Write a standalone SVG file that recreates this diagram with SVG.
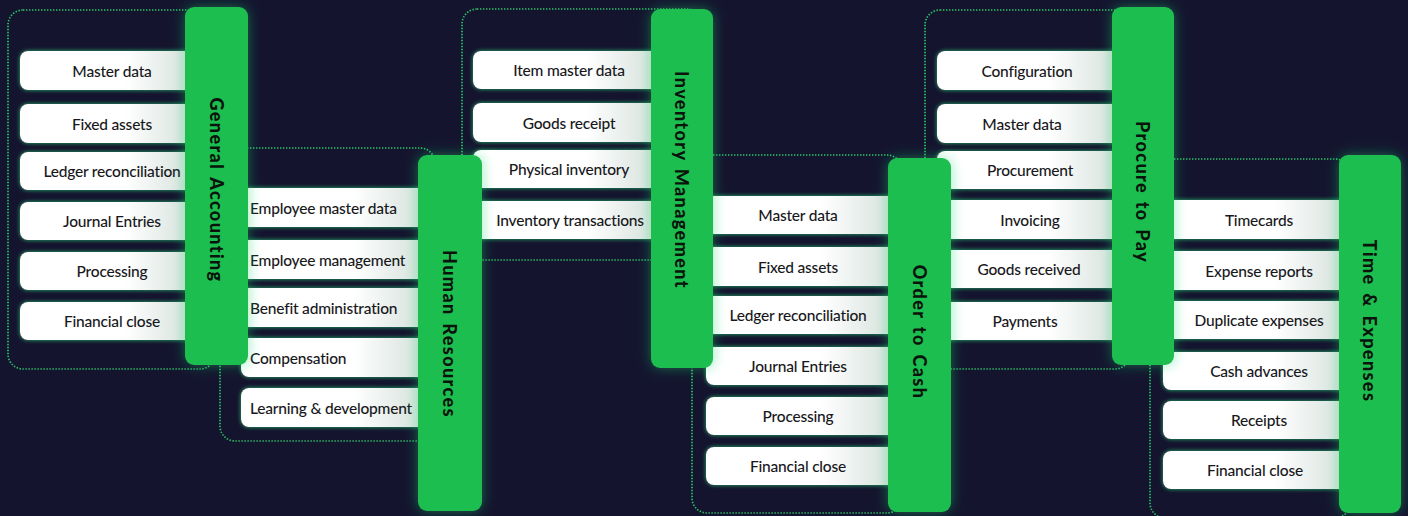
<svg xmlns="http://www.w3.org/2000/svg" width="1408" height="516" viewBox="0 0 1408 516">
  <defs>
    <linearGradient id="itemFill" x1="0" y1="0" x2="1" y2="0">
      <stop offset="0" stop-color="#ffffff"/>
      <stop offset="0.6" stop-color="#ffffff"/>
      <stop offset="1" stop-color="#d3dfd9"/>
    </linearGradient>
    <filter id="itemGlow" x="-10%" y="-40%" width="120%" height="180%">
      <feGaussianBlur in="SourceAlpha" stdDeviation="2"/>
      <feComponentTransfer><feFuncA type="linear" slope="0.8"/></feComponentTransfer>
      <feComposite in2="SourceAlpha" operator="out" result="halo"/>
      <feFlood flood-color="#2fe07c"/>
      <feComposite in2="halo" operator="in" result="glow"/>
      <feMerge><feMergeNode in="glow"/><feMergeNode in="SourceGraphic"/></feMerge>
    </filter>
    <filter id="barGlow" x="-60%" y="-20%" width="220%" height="140%">
      <feGaussianBlur in="SourceAlpha" stdDeviation="7"/>
      <feComponentTransfer><feFuncA type="linear" slope="0.45"/></feComponentTransfer>
      <feComposite in2="SourceAlpha" operator="out" result="halo"/>
      <feFlood flood-color="#1fd36a"/>
      <feComposite in2="halo" operator="in" result="glow"/>
      <feMerge><feMergeNode in="glow"/><feMergeNode in="SourceGraphic"/></feMerge>
    </filter>
    <style>
      .frame { fill: none; stroke: #2ac466; stroke-width: 1.7; stroke-dasharray: 1.4 1.6; }
      .item rect { fill: url(#itemFill); filter: url(#itemGlow); }
      .item text { font-family: Lato, "Liberation Sans", sans-serif; font-size: 15.5px; font-weight: 500; fill: #18181c; text-anchor: middle; dominant-baseline: central; letter-spacing: -0.2px; }
      .item.left text { text-anchor: start; }
      .bar rect { fill: #1dbf50; filter: url(#barGlow); }
      .bar text { font-family: Lato, "Liberation Sans", sans-serif; font-size: 18px; font-weight: 900; letter-spacing: 1.4px; word-spacing: 2px; fill: #0a140d; text-anchor: middle; dominant-baseline: central; }
    </style>
  </defs>

  <rect x="0" y="0" width="1408" height="516" fill="#14142e"/>

  <!-- dotted frames behind each process column -->
  <g id="connectors">
    <rect class="frame" x="8" y="10" width="207" height="359" rx="15"/>
    <rect class="frame" x="220" y="148" width="215" height="293" rx="15"/>
    <rect class="frame" x="462" y="9" width="240" height="251" rx="15"/>
    <rect class="frame" x="692" y="155" width="210" height="358" rx="15"/>
    <rect class="frame" x="925" y="10" width="205" height="359" rx="15"/>
    <rect class="frame" x="1150" y="159" width="200" height="359" rx="15"/>
  </g>

  <!-- columns drawn right to left so each bar sits over the next column's items -->
  <g id="time-expenses">
    <g class="item"><rect x="1163" y="200" width="186" height="39" rx="8"/><text x="1259" y="219.5">Timecards</text></g>
    <g class="item"><rect x="1163" y="251" width="186" height="39" rx="8"/><text x="1259" y="270.5">Expense reports</text></g>
    <g class="item"><rect x="1163" y="301" width="186" height="38" rx="8"/><text x="1259" y="320">Duplicate expenses</text></g>
    <g class="item"><rect x="1163" y="352" width="186" height="38" rx="8"/><text x="1259" y="371">Cash advances</text></g>
    <g class="item"><rect x="1163" y="401" width="186" height="38" rx="8"/><text x="1259" y="420">Receipts</text></g>
    <g class="item"><rect x="1163" y="451" width="186" height="38" rx="8"/><text x="1255" y="470">Financial close</text></g>
    <g class="bar"><rect x="1339" y="155" width="62" height="358" rx="9"/><text transform="translate(1370 321) rotate(90)">Time &amp; Expenses</text></g>
  </g>

  <g id="procure-to-pay">
    <g class="item"><rect x="937" y="51" width="185" height="39" rx="8"/><text x="1027" y="70.5">Configuration</text></g>
    <g class="item"><rect x="937" y="104" width="185" height="39" rx="8"/><text x="1022" y="123.5">Master data</text></g>
    <g class="item"><rect x="937" y="151" width="185" height="38" rx="8"/><text x="1030" y="170">Procurement</text></g>
    <g class="item"><rect x="937" y="200" width="185" height="39" rx="8"/><text x="1030" y="219.5">Invoicing</text></g>
    <g class="item"><rect x="937" y="250" width="185" height="38" rx="8"/><text x="1029" y="269">Goods received</text></g>
    <g class="item"><rect x="937" y="302" width="185" height="38" rx="8"/><text x="1025" y="321">Payments</text></g>
    <g class="bar"><rect x="1112" y="7" width="62" height="358" rx="9"/><text transform="translate(1143 192) rotate(90)">Procure to Pay</text></g>
  </g>

  <g id="order-to-cash">
    <g class="item"><rect x="706" y="196" width="192" height="38" rx="8"/><text x="798" y="215">Master data</text></g>
    <g class="item"><rect x="706" y="247" width="192" height="39" rx="8"/><text x="798" y="266.5">Fixed assets</text></g>
    <g class="item"><rect x="706" y="296" width="192" height="38" rx="8"/><text x="798" y="315">Ledger reconciliation</text></g>
    <g class="item"><rect x="706" y="347" width="192" height="38" rx="8"/><text x="798" y="366">Journal Entries</text></g>
    <g class="item"><rect x="706" y="397" width="192" height="38" rx="8"/><text x="798" y="416">Processing</text></g>
    <g class="item"><rect x="706" y="447" width="192" height="38" rx="8"/><text x="798" y="466">Financial close</text></g>
    <g class="bar"><rect x="888" y="158" width="63" height="354" rx="9"/><text transform="translate(919.5 332) rotate(90)">Order to Cash</text></g>
  </g>

  <g id="inventory-management">
    <g class="item"><rect x="473" y="51" width="188" height="38" rx="8"/><text x="569" y="70">Item master data</text></g>
    <g class="item"><rect x="473" y="103" width="188" height="39" rx="8"/><text x="569" y="122.5">Goods receipt</text></g>
    <g class="item"><rect x="473" y="150" width="188" height="38" rx="8"/><text x="569" y="169">Physical inventory</text></g>
    <g class="item"><rect x="473" y="201" width="188" height="38" rx="8"/><text x="570" y="220">Inventory transactions</text></g>
    <g class="bar"><rect x="651" y="9" width="62" height="359" rx="9"/><text transform="translate(682 180) rotate(90)">Inventory Management</text></g>
  </g>

  <g id="human-resources">
    <g class="item left"><rect x="241" y="188" width="187" height="39" rx="8"/><text x="250" y="207.5">Employee master data</text></g>
    <g class="item left"><rect x="241" y="240" width="187" height="39" rx="8"/><text x="250" y="259.5">Employee management</text></g>
    <g class="item left"><rect x="241" y="288" width="187" height="39" rx="8"/><text x="250" y="307.5">Benefit administration</text></g>
    <g class="item left"><rect x="241" y="338" width="187" height="39" rx="8"/><text x="250" y="357.5">Compensation</text></g>
    <g class="item left"><rect x="241" y="388" width="187" height="39" rx="8"/><text x="250" y="407.5">Learning &amp; development</text></g>
    <g class="bar"><rect x="418" y="155" width="64" height="356" rx="9"/><text transform="translate(450 334) rotate(90)">Human Resources</text></g>
  </g>

  <g id="general-accounting">
    <g class="item"><rect x="20" y="51" width="175" height="39" rx="8"/><text x="112" y="70.5">Master data</text></g>
    <g class="item"><rect x="20" y="104" width="175" height="39" rx="8"/><text x="112" y="123.5">Fixed assets</text></g>
    <g class="item"><rect x="20" y="152" width="175" height="38" rx="8"/><text x="112" y="171">Ledger reconciliation</text></g>
    <g class="item"><rect x="20" y="202" width="175" height="38" rx="8"/><text x="112" y="221">Journal Entries</text></g>
    <g class="item"><rect x="20" y="252" width="175" height="38" rx="8"/><text x="112" y="271">Processing</text></g>
    <g class="item"><rect x="20" y="302" width="175" height="38" rx="8"/><text x="112" y="321">Financial close</text></g>
    <g class="bar"><rect x="185" y="7" width="63" height="358" rx="9"/><text transform="translate(216.5 190) rotate(90)">General Accounting</text></g>
  </g>
</svg>
